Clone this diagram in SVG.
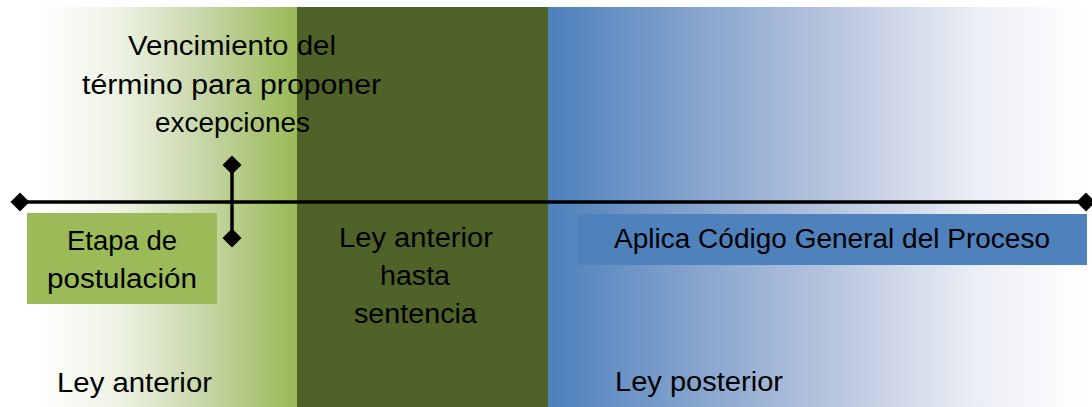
<svg xmlns="http://www.w3.org/2000/svg" width="1092" height="407" viewBox="0 0 1092 407">
  <style>
    .t { font-family: "Liberation Sans", Arial, sans-serif; font-size: 27px; fill: #000; }
    .ln { stroke: #000; stroke-width: 3.5; fill: none; }
  </style>
  <defs>
    <linearGradient id="gGreen" gradientUnits="userSpaceOnUse" x1="35" y1="0" x2="292" y2="0">
      <stop offset="0" stop-color="#FFFFFF"/>
      <stop offset="0.32" stop-color="#EEF3E5"/>
      <stop offset="0.64" stop-color="#C9D8AB"/>
      <stop offset="1" stop-color="#9BBB59"/>
    </linearGradient>
    <linearGradient id="gBlue" gradientUnits="userSpaceOnUse" x1="552" y1="0" x2="1085" y2="0">
      <stop offset="0" stop-color="#4F81BD"/>
      <stop offset="0.5" stop-color="#B3C2DC"/>
      <stop offset="0.8" stop-color="#EBEEF5"/>
      <stop offset="1" stop-color="#FFFFFF"/>
    </linearGradient>
    <marker id="dia" viewBox="-10 -10 20 20" markerWidth="20" markerHeight="20" markerUnits="userSpaceOnUse" refX="0" refY="0" orient="0">
      <polygon points="0,-9.5 9.5,0 0,9.5 -9.5,0" fill="#000"/>
    </marker>
  </defs>

  <g id="bands">
    <rect x="0" y="7" width="297" height="400" fill="url(#gGreen)"/>
    <rect x="297" y="7" width="251" height="400" fill="#4F6228"/>
    <rect x="548" y="7" width="544" height="400" fill="url(#gBlue)"/>
  </g>

  <g id="node-etapa">
    <rect x="27" y="213" width="190" height="91" fill="#9BBB59"/>
    <text class="t" x="122" y="250" text-anchor="middle" textLength="110" lengthAdjust="spacingAndGlyphs">Etapa de</text>
    <text class="t" x="122" y="288" text-anchor="middle" textLength="150" lengthAdjust="spacingAndGlyphs">postulación</text>
  </g>

  <g id="node-aplica">
    <rect x="577" y="214" width="510" height="51" fill="#4F81BD"/>
    <text class="t" x="832" y="248" text-anchor="middle" textLength="436" lengthAdjust="spacingAndGlyphs">Aplica Código General del Proceso</text>
  </g>

  <g id="node-vencimiento">
    <text class="t" x="232" y="55" text-anchor="middle" textLength="208" lengthAdjust="spacingAndGlyphs">Vencimiento del</text>
    <text class="t" x="231.5" y="94" text-anchor="middle" textLength="299" lengthAdjust="spacingAndGlyphs">término para proponer</text>
    <text class="t" x="232.5" y="132" text-anchor="middle" textLength="155" lengthAdjust="spacingAndGlyphs">excepciones</text>
  </g>

  <g id="node-ley-anterior-hasta">
    <text class="t" x="416" y="247" text-anchor="middle" textLength="154" lengthAdjust="spacingAndGlyphs">Ley anterior</text>
    <text class="t" x="415" y="285" text-anchor="middle" textLength="70" lengthAdjust="spacingAndGlyphs">hasta</text>
    <text class="t" x="415.5" y="323" text-anchor="middle" textLength="123" lengthAdjust="spacingAndGlyphs">sentencia</text>
  </g>

  <g id="node-ley-anterior">
    <text class="t" x="57" y="392" textLength="155" lengthAdjust="spacingAndGlyphs">Ley anterior</text>
  </g>

  <g id="node-ley-posterior">
    <text class="t" x="615" y="391" textLength="168" lengthAdjust="spacingAndGlyphs">Ley posterior</text>
  </g>

  <g id="connectors">
    <line class="ln" x1="20" y1="202" x2="1086" y2="202" marker-start="url(#dia)" marker-end="url(#dia)"/>
    <line class="ln" x1="232" y1="165" x2="232" y2="238" marker-start="url(#dia)" marker-end="url(#dia)"/>
  </g>
</svg>
